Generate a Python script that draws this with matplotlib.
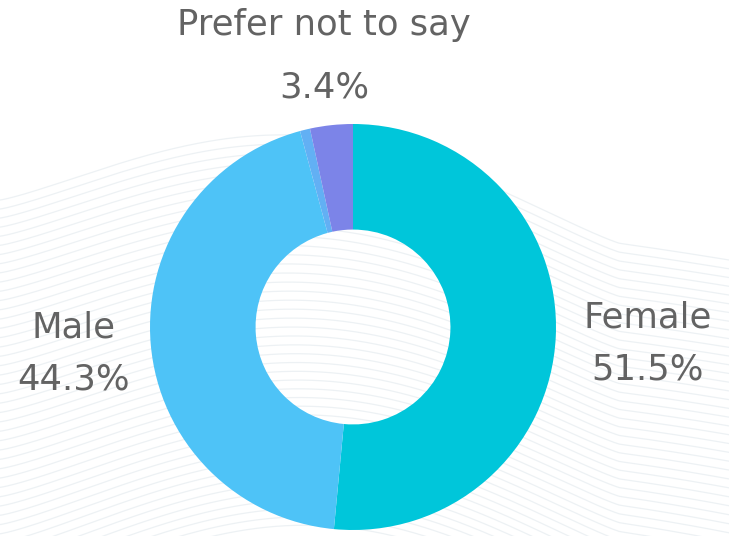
import numpy as np
import matplotlib
matplotlib.use("Agg")
import matplotlib.pyplot as plt

categories = ["Female", "Male", "Other", "Prefer not to say"]
values = [51.5, 44.3, 0.8, 3.4]
colors = ["#00C6DA", "#4EC3F7", "#62B0F4", "#7C84E8"]
pct_labels = ["51.5%", "44.3%", "", "3.4%"]

W, H = 729, 536
fig = plt.figure(figsize=(W / 100, H / 100), dpi=100)
fig.patch.set_facecolor("white")

# background axes in pixel coordinates
bg = fig.add_axes([0, 0, 1, 1])
bg.set_xlim(0, W)
bg.set_ylim(H, 0)
bg.axis("off")

# decorative wavy lines
xs = np.linspace(0, W, 300)
for i in range(45):
    t = i / 44
    top = 200 - 75 * np.sin(np.clip(xs / 620, 0, 1) * np.pi) ** 1.2 + 60 * (xs / W) ** 2
    y = top + i * 9 + 12 * t * np.sin(xs / 180 + t * 2)
    bg.plot(xs, y, color="#EBF0F3", lw=0.9, alpha=0.9, zorder=0)

# donut axes
cx, cy, r = 353, 327, 203
pax = fig.add_axes([(cx - r) / W, (H - cy - r) / H, 2 * r / W, 2 * r / H])
pax.pie(values, colors=colors, startangle=90, counterclock=False,
        radius=1.0, wedgeprops=dict(width=0.52, linewidth=0))
pax.set_xlim(-1, 1)
pax.set_ylim(-1, 1)
pax.set_aspect("equal")
pax.axis("off")

fkw = dict(color="#636363", fontsize=25.5, family="DejaVu Sans",
           ha="center", va="center", zorder=5)
bg.text(324, 25, categories[3], **fkw)
bg.text(324, 87, pct_labels[3], **fkw)
bg.text(74, 328, categories[1], **fkw)
bg.text(74, 380, pct_labels[1], **fkw)
bg.text(648, 317, categories[0], **fkw)
bg.text(648, 370, pct_labels[0], **fkw)

fig.savefig("out.png", dpi=100, facecolor="white")
